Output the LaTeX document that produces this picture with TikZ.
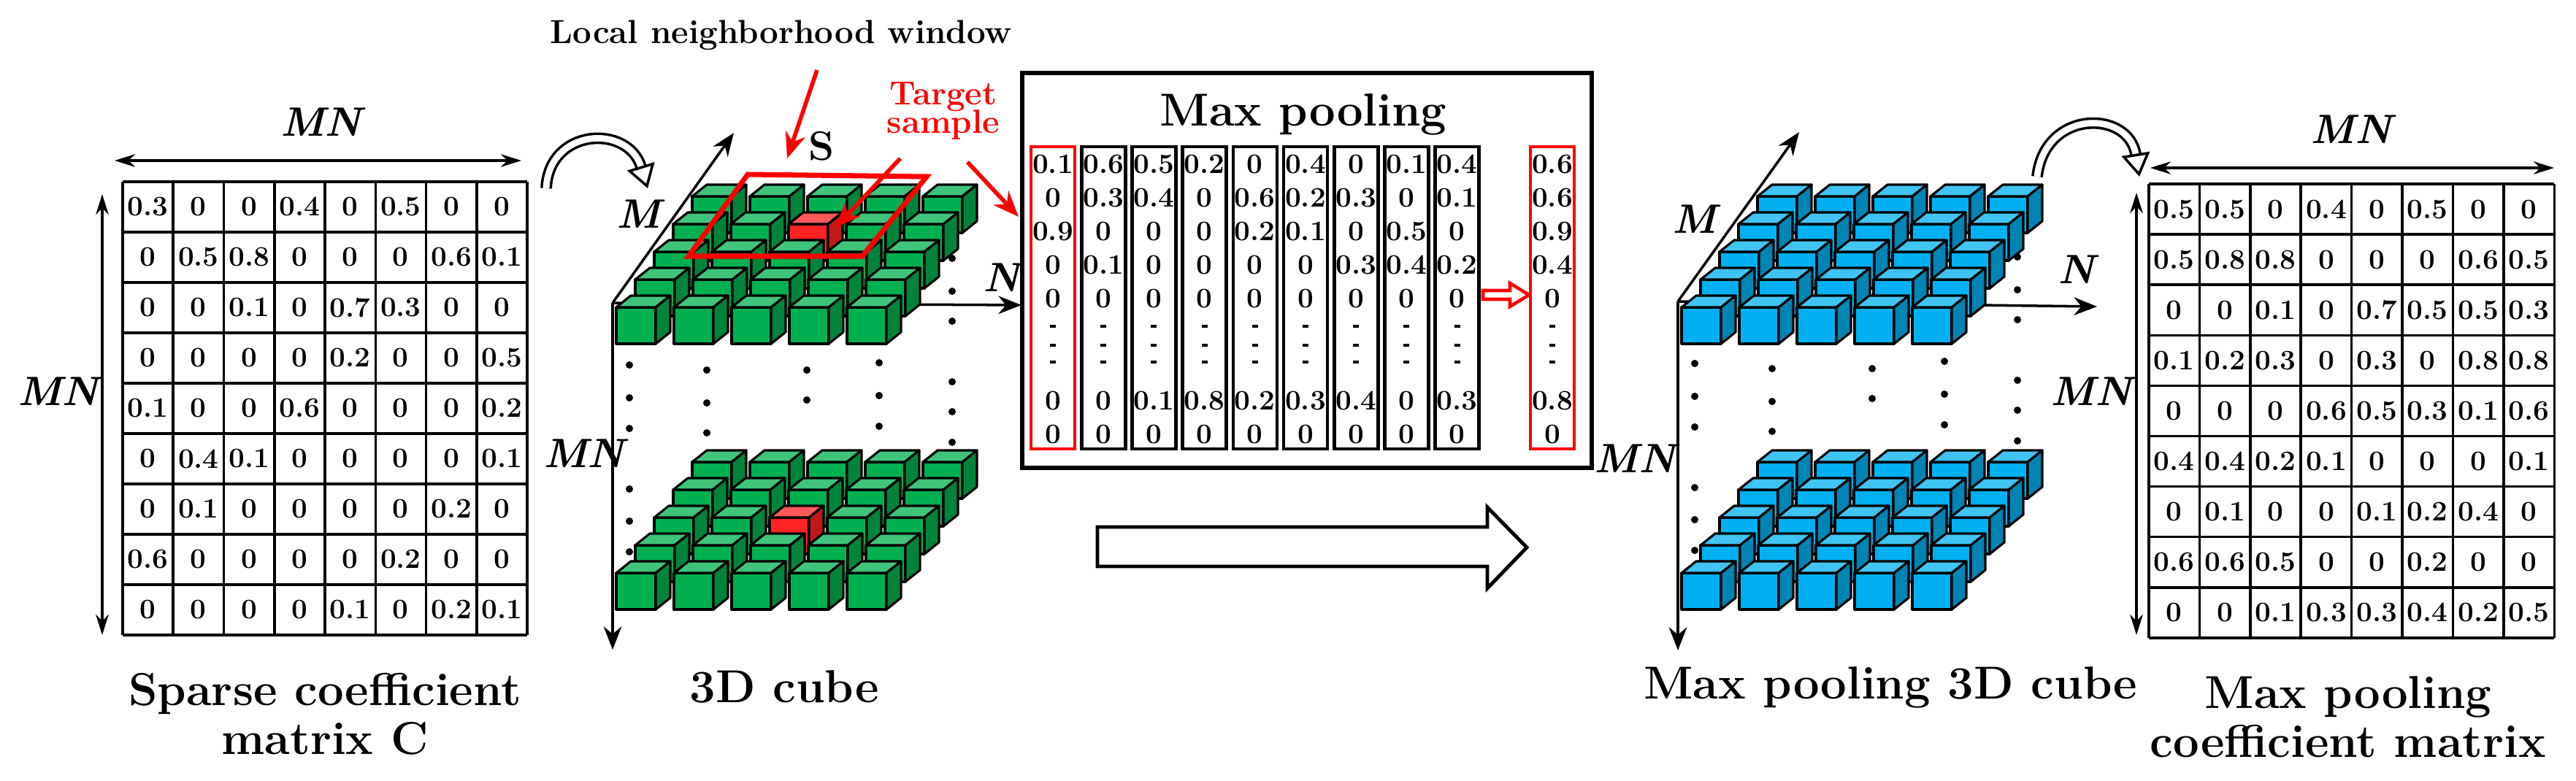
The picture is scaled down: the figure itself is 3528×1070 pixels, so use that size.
\documentclass[tikz,border=0pt]{standalone}
\usetikzlibrary{arrows.meta}
\definecolor{cubegreen}{RGB}{0,176,80}
\definecolor{cubeblue}{RGB}{0,176,240}
\definecolor{cubered}{RGB}{255,35,35}
\tikzset{%
  cell/.style={font=\fontsize{11}{12}\selectfont\bfseries, inner sep=0pt},
  pool val/.style={font=\fontsize{11}{12}\selectfont\bfseries, inner sep=0pt},
  grid line/.style={line width=1pt},
  cube line/.style={line width=0.9pt, line join=round},
  axis/.style={line width=1pt, -{Stealth[length=9pt,width=7pt]}},
  dim/.style={line width=0.9pt, {Stealth[length=8pt,width=5pt]}-{Stealth[length=8pt,width=5pt]}},
  axis label/.style={font=\fontsize{16}{18}\selectfont\bfseries\itshape},
  caption/.style={font=\fontsize{18}{21}\selectfont\bfseries, align=center},
  red note/.style={font=\bfseries\fontsize{13}{14}\selectfont, text=red, align=center},
  red arrow/.style={red, line width=1.6pt, -{Stealth[length=10pt,width=8pt]}},
  hollow/.style={line width=1.4pt, fill=white, line join=miter},
  turn/.style={double=white, double distance=2.5pt, line width=1pt, -{Triangle[open,length=9pt,width=11pt]}},
}
% one small cube, front face top-left at (#1,#2)
\newcommand{\drawcube}[3]{%
  \filldraw[cube line, fill=#3] (#1,#2) rectangle ++(54,50);
  \filldraw[cube line, fill=#3!75!white] (#1,#2) -- ++(20,-16) -- ++(54,0) -- ++(-20,16) -- cycle;
  \filldraw[cube line, fill=#3!75!black] ({#1+54},#2) -- ++(20,-16) -- ++(0,50) -- ++(-20,16) -- cycle;}
% a 5x5 layer; #4 = 10*row+col of the red cube (-1: none)
\newcommand{\cubelayer}[4]{%
  \foreach \r in {4,3,2,1,0}{\foreach \i in {0,...,4}{
    \pgfmathsetmacro{\cx}{#1+5+79*\i+26*\r}
    \pgfmathsetmacro{\cy}{#2-38*\r}
    \pgfmathtruncatemacro{\k}{10*\r+\i}
    \ifnum\k=#4 \drawcube{\cx}{\cy}{cubered}\else\drawcube{\cx}{\cy}{#3}\fi}}}
% dots between the two layers
\newcommand{\cubedots}[2]{%
  \foreach \dx/\dy in {23/85,23/130,23/172,23/255,23/299,23/341,129/92,129/137,129/178,
      266/92,266/133,365/82,365/127,365/169,465/-61,465/-16,465/25,465/108,465/149,465/191}
    \fill ({#1+\dx},{#2+\dy}) circle (5);}
% coefficient matrix
\newcommand{\coefmatrix}[6]{%
  \foreach \row [count=\j from 0] in {#6}{
    \foreach \v [count=\i from 0] in \row {
      \node[cell] (#1-\j-\i) at ({#2+(\i+0.5)*#4},{#3+(\j+0.5)*#5}) {\v};}}
  \foreach \i in {0,...,8} \draw[grid line] ({#2+\i*#4},#3) -- ++(0,{9*#5});
  \foreach \j in {0,...,9} \draw[grid line] (#2,{#3+\j*#5}) -- ++({8*#4},0);}
\begin{document}
\begin{tikzpicture}[x=0.01cm,y=-0.01cm]
\useasboundingbox (0,0) rectangle (3528,1070);

% Sparse coefficient matrix
\coefmatrix{sp}{168}{249}{69.25}{69}{{0.3,0,0,0.4,0,0.5,0,0},{0,0.5,0.8,0,0,0,0.6,0.1},
  {0,0,0.1,0,0.7,0.3,0,0},{0,0,0,0,0.2,0,0,0.5},{0.1,0,0,0.6,0,0,0,0.2},
  {0,0.4,0.1,0,0,0,0,0.1},{0,0.1,0,0,0,0,0.2,0},{0.6,0,0,0,0,0.2,0,0},{0,0,0,0,0.1,0,0.2,0.1}}
\coordinate (spl) at (157,220); \coordinate (spr) at (714,220);
\coordinate (spt) at (140,266); \coordinate (spb) at (140,870);
\draw[dim] (spl) -- (spr);
\draw[dim] (spt) -- (spb);
\node[axis label] (spMNa) at (440,167) {MN};
\node[axis label] (spMNb) at (80,536) {MN};
\node[caption] (spcap) at (445,978) {Sparse coefficient\\[-2pt]matrix C};

% 3D cube
\coordinate (co) at (839,415);
\coordinate (cm) at (1005,182);
\coordinate (cn) at (1399,418);
\coordinate (cd) at (839,890);
\draw[axis] (co) -- (cm);
\draw[axis] (co) -- (cn);
\draw[axis] (co) -- (cd);
\cubedots{839}{415}
\cubelayer{839}{785}{cubegreen}{22}
\cubelayer{839}{421}{cubegreen}{32}
\draw[red, line width=2pt] (943,351) -- (1181,351) -- (1269,242) -- (1024,239) -- cycle;
\node[axis label] (cM) at (875,293) {M};
\node[axis label] (cN) at (1372,380) {N};
\node[axis label] (cMN) at (800,621) {MN};
\node[font=\bfseries\fontsize{16}{18}\selectfont] (cS) at (1125,200) {S};
\node[caption] (ccap) at (1074,941) {3D cube};
\node[font=\bfseries\fontsize{13}{14}\selectfont] (win) at (1070,48) {Local neighborhood window};
\node[red note] (tgt) at (1292,152) {Target\\[-3pt]sample};
\coordinate (winend) at (1078,217);
\coordinate (tgtend) at (1144,312);
\coordinate (colend) at (1395,297);
\draw[red arrow] (1119,96) -- (winend);
\draw[red arrow] (1233,217) -- (tgtend);
\draw[red arrow] (1325,222) -- (colend);

% curved arrow into the cube
\coordinate (ta) at (748,258); \coordinate (tb) at (887,258);
\draw[turn] (ta) .. controls (752,175) and (860,170) .. (tb);

% Max pooling box
\node[draw, line width=1.6pt, minimum width=7.8cm, minimum height=5.41cm, inner sep=0pt] (pool) at (1790,370.5) {};
\node[font=\fontsize{18}{20}\selectfont\bfseries] (pooltitle) at (1785,157) {Max pooling};
\foreach \vals [count=\k from 0] in {{0.1,0,0.9,0,0,0,0},{0.6,0.3,0,0.1,0,0,0},{0.5,0.4,0,0,0,0.1,0},
    {0.2,0,0,0,0,0.8,0},{0,0.6,0.2,0,0,0.2,0},{0.4,0.2,0.1,0,0,0.3,0},{0,0.3,0,0.3,0,0.4,0},
    {0.1,0,0.5,0.4,0,0,0},{0.4,0.1,0,0.2,0,0.3,0},{0.6,0.6,0.9,0.4,0,0.8,0}}{
  \pgfmathsetmacro{\cx}{\k<9 ? 1442+69.2*\k : 2126}
  \pgfmathtruncatemacro{\red}{(\k==0 || \k==9) ? 1 : 0}
  \ifnum\red=1 \draw[red, line width=1.2pt] ({\cx-30},201) rectangle ({\cx+30},615);
  \else \draw[line width=1.3pt] ({\cx-30},201) rectangle ({\cx+30},615); \fi
  \foreach \v [count=\j from 0] in \vals {
    \pgfmathsetmacro{\ry}{{225,271,317,363,409,549,595}[\j]}
    \node[pool val] at (\cx,\ry) {\v};}
  \foreach \dy in {447,473,496} \draw[line width=1pt] ({\cx-4},\dy) -- ({\cx+4},\dy);
}
\draw[hollow, draw=red, line width=1.3pt] (2031,398) -- (2068,398) -- (2068,388) -- (2094,404)
  -- (2068,420) -- (2068,410) -- (2031,410) -- cycle;
\draw[hollow] (1503,722) -- (2037,722) -- (2037,695) -- (2091,750) -- (2037,806)
  -- (2037,776) -- (1503,776) -- cycle;

% Max pooling 3D cube
\coordinate (bo) at (2298,413);
\coordinate (bm) at (2464,181);
\coordinate (bn) at (2872,420);
\coordinate (bd) at (2298,891);
\draw[axis] (bo) -- (bm);
\draw[axis] (bo) -- (bn);
\draw[axis] (bo) -- (bd);
\cubedots{2298}{413}
\cubelayer{2298}{785}{cubeblue}{-1}
\cubelayer{2298}{421}{cubeblue}{-1}
\node[axis label] (bM) at (2321,300) {M};
\node[axis label] (bN) at (2844,369) {N};
\node[axis label] (bMN) at (2239,628) {MN};
\node[caption] (bcap) at (2589,942) {Max pooling 3D cube};

% curved arrow to the matrix
\coordinate (ua) at (2790,242); \coordinate (ub) at (2930,242);
\draw[turn] (ua) .. controls (2800,150) and (2915,150) .. (ub);

% Max pooling coefficient matrix
\coefmatrix{mp}{2943}{252}{69.4}{69.1}{{0.5,0.5,0,0.4,0,0.5,0,0},{0.5,0.8,0.8,0,0,0,0.6,0.5},
  {0,0,0.1,0,0.7,0.5,0.5,0.3},{0.1,0.2,0.3,0,0.3,0,0.8,0.8},{0,0,0,0.6,0.5,0.3,0.1,0.6},
  {0.4,0.4,0.2,0.1,0,0,0,0.1},{0,0.1,0,0,0.1,0.2,0.4,0},{0.6,0.6,0.5,0,0,0.2,0,0},{0,0,0.1,0.3,0.3,0.4,0.2,0.5}}
\coordinate (mpl) at (2945,230); \coordinate (mpr) at (3498,230);
\coordinate (mpt) at (2926,264); \coordinate (mpb) at (2926,870);
\draw[dim] (mpl) -- (mpr);
\draw[dim] (mpt) -- (mpb);
\node[axis label] (mpMNa) at (3220,177) {MN};
\node[axis label] (mpMNb) at (2864,536) {MN};
\node[caption] (mpcap) at (3216,982) {Max pooling\\[-2pt]coefficient matrix};
\end{tikzpicture}
\end{document}
